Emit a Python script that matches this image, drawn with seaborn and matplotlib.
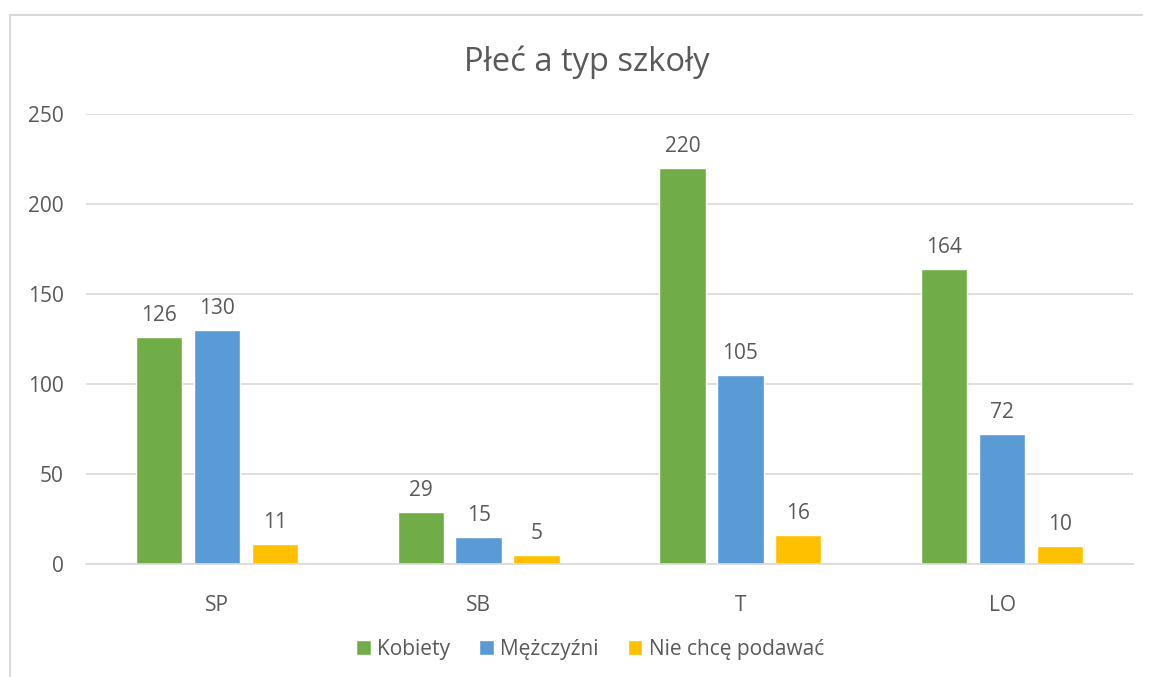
import pandas as pd
import seaborn as sns
import matplotlib.pyplot as plt

# Data
schools = ['SP', 'SB', 'T', 'LO']
kobiety = [126, 29, 220, 164]
mezczyzni = [130, 15, 105, 72]
nie_chce = [11, 5, 16, 10]
series_names = ['Kobiety', 'Mężczyźni', 'Nie chcę podawać']
colors = ['#70AD47', '#5B9BD5', '#FFC000']

df = pd.DataFrame({
    'szkola': schools * 3,
    'seria': [s for s in series_names for _ in schools],
    'liczba': kobiety + mezczyzni + nie_chce,
})

sns.set_theme(style='white')
plt.rcParams['font.family'] = ['Open Sans', 'DejaVu Sans']
text_color = '#595959'
border = '#D9D9D9'

fig = plt.figure(figsize=(11.51, 6.77), dpi=100)
ax = fig.add_axes([86 / 1151, 1 - 564 / 677, 1047 / 1151, 450 / 677])

sns.barplot(data=df, x='szkola', y='liczba', hue='seria', order=schools,
            hue_order=series_names, palette=colors, width=0.664, gap=0.2,
            saturation=1, ax=ax, legend=True)

for container in ax.containers:
    ax.bar_label(container, padding=8, fontsize=15, color=text_color)

ax.set_xlim(-0.5, 3.5)
ax.set_ylim(0, 250)
ax.set_yticks(range(0, 251, 50))
ax.yaxis.grid(True, color=border, linewidth=1.2)
ax.set_axisbelow(True)
for side in ['top', 'right', 'left']:
    ax.spines[side].set_visible(False)
ax.spines['bottom'].set_color(border)
ax.spines['bottom'].set_linewidth(1.2)
ax.tick_params(axis='both', length=0, labelsize=15, colors=text_color)
ax.tick_params(axis='x', pad=22)
ax.tick_params(axis='y', pad=16)
ax.set_xlabel('')
ax.set_ylabel('')

fig.text(587 / 1151, 1 - 62 / 677, 'Płeć a typ szkoły', ha='center', va='center',
         fontsize=23.5, color=text_color)

handles, labels = ax.get_legend_handles_labels()
ax.legend_.remove()
fig.legend(handles, labels, loc='center', bbox_to_anchor=(590 / 1151, 1 - 649 / 677),
           ncol=3, frameon=False, fontsize=15, labelcolor=text_color,
           handlelength=0.7, handleheight=0.7, handletextpad=0.3, columnspacing=1.4)

# outer chart frame (only top and left edges are visible in the reference)
fig.add_artist(plt.Line2D([10 / 1151, 1142 / 1151], [1 - 15 / 677, 1 - 15 / 677],
                          transform=fig.transFigure, color=border, linewidth=1.5))
fig.add_artist(plt.Line2D([10 / 1151, 10 / 1151], [0, 1 - 15 / 677],
                          transform=fig.transFigure, color=border, linewidth=1.5))

fig.savefig('out.png', dpi=100)
